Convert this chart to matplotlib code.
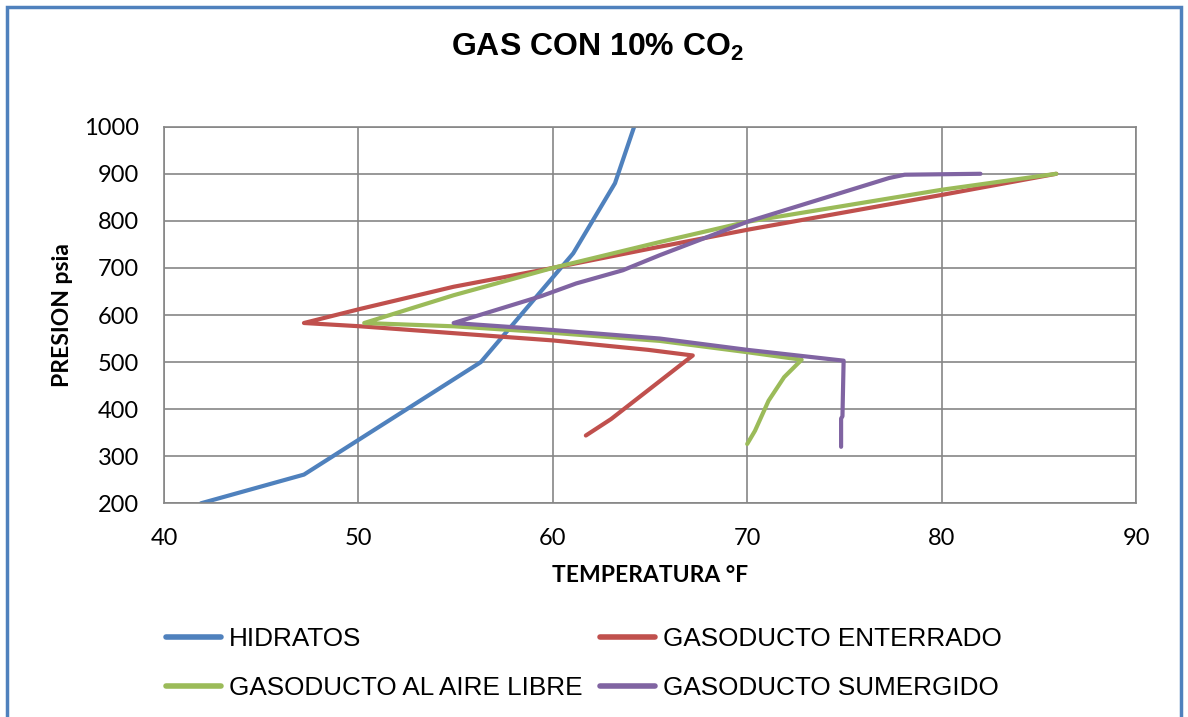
import matplotlib
matplotlib.use('Agg')
import matplotlib.pyplot as plt
from matplotlib.patches import Rectangle

# HIDRATOS
hid_t = [41.9, 47.2, 56.3, 61.05, 63.2, 64.3]
hid_p = [200, 261, 500, 731, 880, 1014]

# GASODUCTO ENTERRADO
ent_t = [61.7, 63.0, 67.2, 64.9, 60.0, 57.0, 50.1, 47.2, 50.1, 54.9, 60.0, 65.5, 70.0, 80.0, 85.9]
ent_p = [344, 379, 514, 526, 546, 555, 576, 583, 613, 660, 700, 745, 781, 855, 900]

# GASODUCTO AL AIRE LIBRE
aire_t = [70.0, 70.4, 71.1, 71.9, 72.8, 70.0, 65.5, 59.4, 54.9, 50.3, 54.9, 60.0, 65.5, 70.0, 80.0, 85.9]
aire_p = [326, 354, 418, 468, 505, 521, 545, 564, 576, 583, 642, 700, 755, 798, 866, 900]

# GASODUCTO SUMERGIDO
sum_t = [74.83, 74.83, 74.9, 74.96, 70.0, 65.5, 59.4, 54.9, 59.4, 61.2, 63.6, 65.5, 70.0, 77.3, 78.1, 82.0]
sum_p = [320, 380, 385, 503, 526, 550, 570, 583, 640, 667, 695, 727, 798, 891, 898, 900]

x_ticks = [40, 50, 60, 70, 80, 90]
y_ticks = [200, 300, 400, 500, 600, 700, 800, 900, 1000]

plt.rcParams['mathtext.fontset'] = 'custom'
plt.rcParams['mathtext.rm'] = 'Liberation Sans:bold'
plt.rcParams['mathtext.bf'] = 'Liberation Sans:bold'

grid_col = '#868686'

fig = plt.figure(figsize=(11.88, 7.17), dpi=100)
fig.patches.append(Rectangle((0.0055, -0.01), 0.989, 1.0, transform=fig.transFigure,
                             fill=False, edgecolor='#4F81BD', linewidth=2.5))

ax = fig.add_axes([164 / 1188, 1 - 503.3 / 717, (1136 - 164) / 1188, (503.3 - 126.7) / 717])

style = dict(lw=3.0, solid_capstyle='round', solid_joinstyle='round')
l1, = ax.plot(hid_t, hid_p, color='#4F81BD', label='HIDRATOS', **style)
l2, = ax.plot(ent_t, ent_p, color='#C0504D', label='GASODUCTO ENTERRADO', **style)
l3, = ax.plot(aire_t, aire_p, color='#9BBB59', label='GASODUCTO AL AIRE LIBRE', **style)
l4, = ax.plot(sum_t, sum_p, color='#8064A2', label='GASODUCTO SUMERGIDO', **style)

ax.set_xlim(40, 90)
ax.set_ylim(200, 1000)
ax.set_xticks(x_ticks)
ax.set_yticks(y_ticks)
ax.grid(True, color=grid_col, lw=1.2)
ax.set_axisbelow(True)
for s in ax.spines.values():
    s.set_color(grid_col)
    s.set_linewidth(1.2)
ax.tick_params(axis='y', length=0, pad=18)
ax.tick_params(axis='x', length=0, pad=18)
for lab in ax.get_xticklabels() + ax.get_yticklabels():
    lab.set_fontfamily('Lato')
    lab.set_fontsize(17)

ax.set_xlabel('TEMPERATURA °F', fontfamily='Lato', fontweight='bold', fontsize=16.5, labelpad=11)
ax.set_ylabel('PRESION psia', fontfamily='Lato', fontweight='bold', fontsize=16.5, labelpad=8)

fig.text(0.503, 1 - 47 / 717, 'GAS CON 10% CO$_\\mathrm{2}$', ha='center', va='center',
         fontfamily='Liberation Sans', fontweight='bold', fontsize=23)

leg = fig.legend([l1, l3, l2, l4],
                 ['HIDRATOS', 'GASODUCTO AL AIRE LIBRE', 'GASODUCTO ENTERRADO', 'GASODUCTO SUMERGIDO'],
                 ncol=2, frameon=False, loc='upper left', bbox_to_anchor=(166 / 1188, 1 - 627 / 717),
                 prop={'family': 'Liberation Sans', 'size': 18.8}, handlelength=2.1, handletextpad=0.3,
                 columnspacing=0.7, labelspacing=0.95, borderpad=0, borderaxespad=0)
for h in leg.get_lines():
    h.set_linewidth(4)

fig.savefig('out.png', dpi=100, facecolor='white')
